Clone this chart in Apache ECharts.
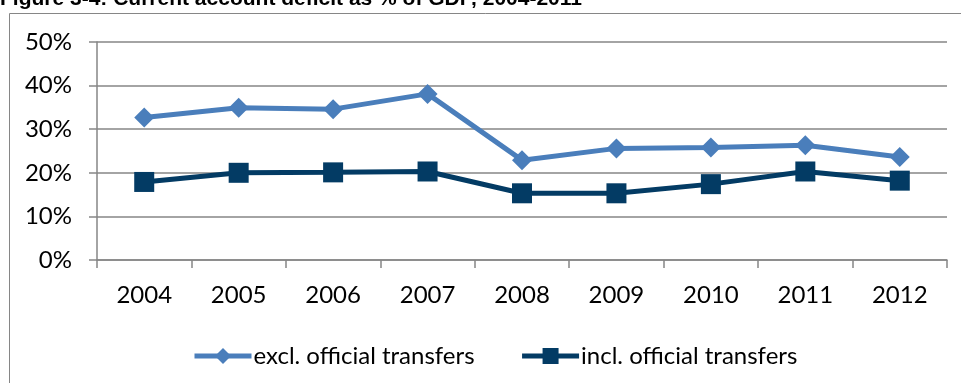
<!DOCTYPE html>
<html>
<head>
<meta charset="utf-8">
<script src="https://cdn.jsdelivr.net/npm/echarts@6/dist/echarts.min.js"></script>
<style>
  html, body { margin: 0; padding: 0; background: #fff; }
  #chart { width: 961px; height: 383px; }
</style>
</head>
<body>
<div id="chart"></div>
<script>
// Current account deficit as % of GDP
const years = ['2004', '2005', '2006', '2007', '2008', '2009', '2010', '2011', '2012'];
const exclOfficialTransfers = [32.7, 34.9, 34.6, 38.1, 22.9, 25.6, 25.8, 26.3, 23.6];
const inclOfficialTransfers = [17.9, 20.0, 20.1, 20.3, 15.3, 15.3, 17.4, 20.3, 18.2];
const seriesNames = ['excl. official transfers', 'incl. official transfers'];
const titleText = 'Figure 3-4: Current account deficit as % of GDP, 2004-2011';

const FONT = 'Lato, "Open Sans", sans-serif';
const GRID_GRAY = '#868686';

const chart = echarts.init(document.getElementById('chart'), null, { renderer: 'canvas' });

chart.setOption({
  animation: false,
  backgroundColor: '#ffffff',
  graphic: [
    {
      type: 'rect',
      shape: { x: 9.5, y: 13.5, width: 980, height: 400 },
      style: { fill: 'none', stroke: GRID_GRAY, lineWidth: 1 },
      silent: true
    },
    {
      type: 'text',
      left: 0,
      top: -11,
      style: {
        text: titleText,
        font: 'bold 21px "Liberation Sans", Arial, sans-serif',
        fill: '#000'
      },
      silent: true
    }
  ],
  grid: { left: 97, right: 14, top: 42, bottom: 123, containLabel: false },
  legend: {
    left: 187,
    top: 339,
    itemWidth: 57,
    itemHeight: 20,
    itemGap: 45,
    lineStyle: { width: 5 },
    textStyle: { fontFamily: FONT, fontSize: 24, color: '#000', padding: [0, 0, 0, -3] },
    data: seriesNames
  },
  xAxis: {
    type: 'category',
    data: years,
    boundaryGap: true,
    axisLine: { lineStyle: { color: GRID_GRAY, width: 1.5 } },
    axisTick: { show: true, length: 8, lineStyle: { color: GRID_GRAY, width: 1.5 } },
    axisLabel: { margin: 23, fontFamily: FONT, fontSize: 24, color: '#000' },
    splitLine: { show: false }
  },
  yAxis: {
    type: 'value',
    min: 0,
    max: 50,
    interval: 10,
    axisLine: { show: true, lineStyle: { color: GRID_GRAY, width: 1.5 } },
    axisTick: { show: true, length: 8, lineStyle: { color: GRID_GRAY, width: 1.5 } },
    axisLabel: { margin: 25, fontFamily: FONT, fontSize: 24, color: '#000', formatter: '{value}%' },
    splitLine: { show: true, lineStyle: { color: GRID_GRAY, width: 1.5 } }
  },
  series: [
    {
      name: seriesNames[0],
      type: 'line',
      data: exclOfficialTransfers,
      symbol: 'diamond',
      symbolSize: 20,
      color: '#4A7EBB',
      lineStyle: { color: '#4A7EBB', width: 5 },
      itemStyle: { color: '#4A7EBB' },
      z: 3
    },
    {
      name: seriesNames[1],
      type: 'line',
      data: inclOfficialTransfers,
      symbol: 'rect',
      symbolSize: 20,
      color: '#033B64',
      lineStyle: { color: '#033B64', width: 5 },
      itemStyle: { color: '#033B64' },
      z: 4
    }
  ]
});
</script>
</body>
</html>
